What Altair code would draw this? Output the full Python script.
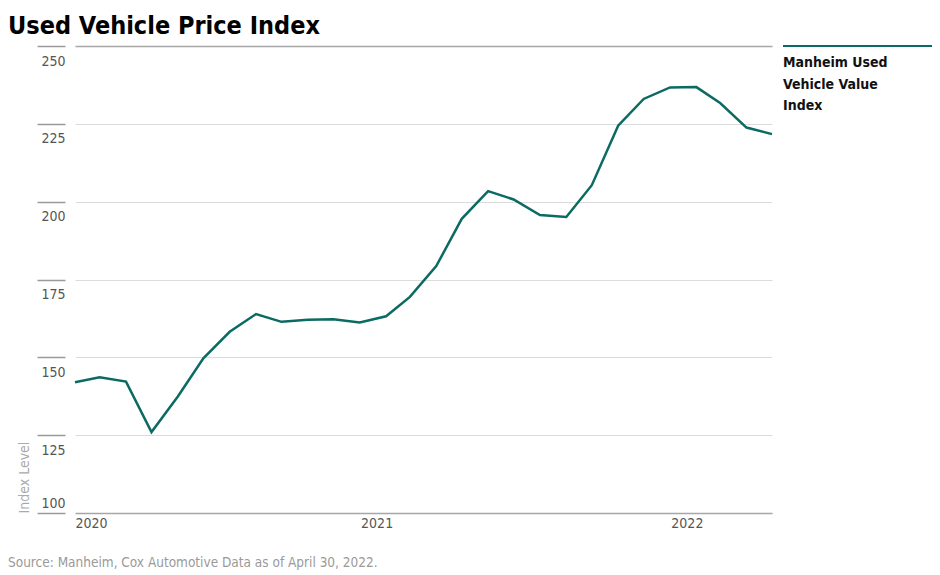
import altair as alt
import pandas as pd

FONT = "'Liberation Sans Narrow', 'DejaVu Sans Condensed', Roboto, sans-serif"

dates = [
    "2020-01-31", "2020-02-29", "2020-03-31", "2020-04-30", "2020-05-31", "2020-06-30",
    "2020-07-31", "2020-08-31", "2020-09-30", "2020-10-31", "2020-11-30", "2020-12-31",
    "2021-01-31", "2021-02-28", "2021-03-31", "2021-04-30", "2021-05-31", "2021-06-30",
    "2021-07-31", "2021-08-31", "2021-09-30", "2021-10-31", "2021-11-30", "2021-12-31",
    "2022-01-31", "2022-02-28", "2022-03-31", "2022-04-30",
]
values = [
    142.0, 143.6, 142.2, 126.0, 137.4, 149.7, 158.2, 163.9, 161.4, 162.1, 162.2, 161.2,
    163.2, 169.4, 179.3, 194.5, 203.4, 200.7, 195.7, 195.1, 205.3, 224.4, 233.0, 236.7,
    236.8, 231.7, 223.8, 221.7,
]
y_ticks = [100, 125, 150, 175, 200, 225, 250]
series_name = "Manheim Used\nVehicle Value\nIndex"
source_note = "Source: Manheim, Cox Automotive Data as of April 30, 2022."
title_text = "Used Vehicle Price Index"

TEAL = "#0b6b62"
W, H = 697, 467

df = pd.DataFrame({"date": dates, "value": values})

x_enc = alt.X(
    "date:T",
    scale=alt.Scale(type="utc", domain=[
        alt.DateTime(year=2020, month=1, date=31, utc=True),
        alt.DateTime(year=2022, month=4, date=30, utc=True)], nice=False),
    axis=alt.Axis(
        values=[alt.DateTime(year=2020, month=1, date=31, utc=True),
                alt.DateTime(year=2021, month=1, date=1, utc=True),
                alt.DateTime(year=2022, month=1, date=1, utc=True)],
        format="%Y", title=None, ticks=False, grid=False,
        domainColor="#a6a6a6", domainWidth=1.5,
        labelAlign="left", labelBaseline="top", labelPadding=3,
        labelFlush=False, labelOverlap=False,
        labelFont=FONT, labelFontSize=14, labelColor="#555555",
    ),
)

y_enc = alt.Y(
    "value:Q",
    scale=alt.Scale(domain=[100, 250], nice=False, zero=False),
    axis=alt.Axis(
        values=y_ticks, offset=10, tickSize=28, tickColor="#9a9a9a", tickWidth=1.5,
        domain=False, grid=True,
        gridColor=alt.condition("datum.value == 250", alt.value("#a6a6a6"), alt.value("#dcdcdc")),
        gridWidth=alt.condition("datum.value == 250", alt.value(1.5), alt.value(1)),
        labelAlign="right",
        labelBaseline=alt.condition("datum.value == 100", alt.value("bottom"), alt.value("top")),
        labelOffset=alt.condition("datum.value == 100", alt.value(-3), alt.value(8)),
        labelPadding=-28,
        labelFont=FONT, labelFontSize=14, labelColor="#555555",
        title="Index Level", titleFont=FONT, titleFontSize=14, titleFontWeight="normal",
        titleColor="#aaaaaa", titleAngle=270, titleAlign="left", titleBaseline="middle",
        titleX=-41, titleY=H,
    ),
)

line = alt.Chart(df).mark_line(color=TEAL, strokeWidth=2.5).encode(x=x_enc, y=y_enc)

one = alt.Data(values=[{"k": 1}])

legend_rule = alt.Chart(one).mark_rule(color=TEAL, strokeWidth=2).encode(
    x=alt.value(W + 11), x2=alt.value(W + 160), y=alt.value(0)
)
legend_text = alt.Chart(one).mark_text(
    align="left", baseline="top", font=FONT, fontSize=14, fontWeight="bold",
    color="#111111", lineBreak="\n", lineHeight=21.5,
).encode(x=alt.value(W + 11), y=alt.value(10), text=alt.value(series_name))

source = alt.Chart(one).mark_text(
    align="left", baseline="middle", font=FONT, fontSize=13.5, color="#9a9a9a",
).encode(x=alt.value(-67), y=alt.value(H + 50), text=alt.value(source_note))

chart = alt.layer(line, legend_rule, legend_text, source).properties(
    width=W, height=H,
    title=alt.TitleParams(title_text, anchor="start", frame="group", dx=-67, offset=6,
                          font=FONT, fontSize=25, fontWeight="bold", color="#000000",
                          baseline="top"),
    autosize=alt.AutoSizeParams(type="none"),
    padding={"left": 67, "top": 38, "right": 160, "bottom": 62},
).configure(font=FONT).configure_view(stroke="transparent", strokeWidth=0)

chart.save("out.html", embed_options={"renderer": "svg", "actions": False})
